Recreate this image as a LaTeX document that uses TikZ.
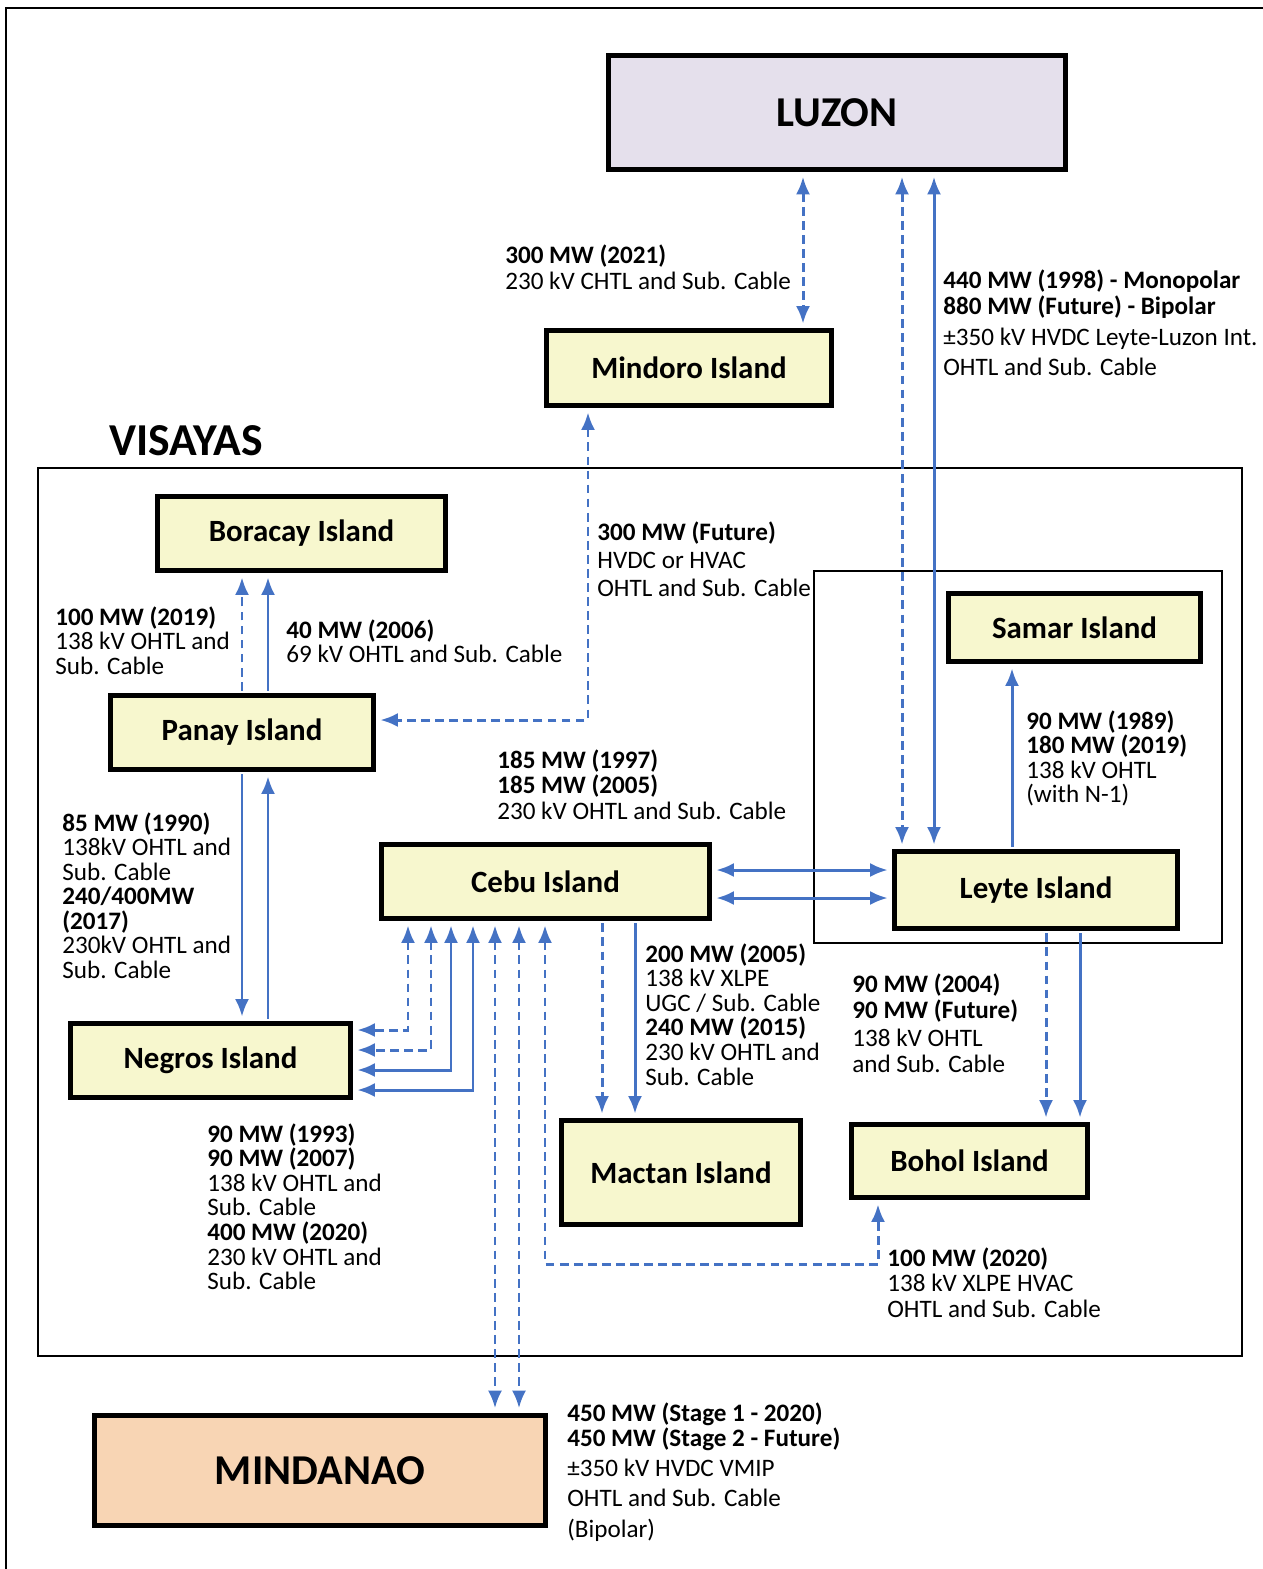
\documentclass[tikz,border=0pt]{standalone}
\usepackage{fontspec}
\setmainfont{Carlito}
\usetikzlibrary{arrows.meta}

\definecolor{linkblue}{HTML}{4472C4}
\definecolor{islandfill}{HTML}{F7F7CE}
\definecolor{luzonfill}{HTML}{E5E0EC}
\definecolor{mindanaofill}{HTML}{F8D5B4}

\begin{document}
\begin{tikzpicture}[x=0.02cm, y=-0.02cm]
        \tikzstyle{every node}=[inner sep=0pt]
        \tikzstyle{island}=[draw, line width=2.8pt, fill=islandfill, minimum height=1.48cm, font=\bfseries\fontsize{17.6}{20}\selectfont]
        \tikzstyle{region}=[draw, line width=3.3pt, font=\bfseries\fontsize{24.2}{28}\selectfont]
        \tikzstyle{link}=[linkblue, line width=1.7pt]
        \tikzstyle{dlink}=[link, dash pattern=on 5pt off 3pt]
        \tikzstyle{lbl}=[anchor=north west, align=left, font=\fontsize{14.3}{14}\selectfont]
        \tikzstyle{headend}=[-{Latex[length=10pt,width=8pt]}, shorten >=2.5pt, shorten <=1.4pt]
        \tikzstyle{headboth}=[{Latex[length=10pt,width=8pt]}-{Latex[length=10pt,width=8pt]}, shorten <=2.5pt, shorten >=2.5pt]
        \useasboundingbox (0,0) rectangle (1263,1569);
        \draw[line width=1.7pt] (1263,8) -- (6,8) -- (6,1569);

        % regions and islands
        \node[region, fill=luzonfill, minimum width=9.14cm, minimum height=2.28cm] (luzon) at (837,112.5) {LUZON};
        \node[island, minimum width=5.70cm, minimum height=1.50cm] (mindoro) at (689,368) {Mindoro Island};
        \node[anchor=west, font=\bfseries\fontsize{26}{30}\selectfont] (visayas) at (109,441) {VISAYAS};
        \draw[line width=1.4pt] (38,468) rectangle (1242,1356);
        \draw[line width=1.2pt] (814,571) rectangle (1222,943);
        \node[island, minimum width=5.76cm] (boracay) at (301.5,533.5) {Boracay Island};
        \node[island, minimum width=5.26cm] (panay) at (242,732.5) {Panay Island};
        \node[island, minimum width=5.04cm, minimum height=1.36cm] (samar) at (1074.5,627.5) {Samar Island};
        \node[island, minimum width=5.66cm, minimum height=1.54cm] (leyte) at (1036,890) {Leyte Island};
        \node[island, minimum width=6.56cm] (cebu) at (545.5,881.5) {Cebu Island};
        \node[island, minimum width=5.60cm] (negros) at (210.5,1060.5) {Negros Island};
        \node[island, minimum width=4.78cm, minimum height=2.08cm] (mactan) at (681,1172.5) {Mactan Island};
        \node[island, minimum width=4.72cm, minimum height=1.46cm] (bohol) at (969.5,1161) {Bohol Island};
        \node[region, fill=mindanaofill, minimum width=9.02cm, minimum height=2.20cm] (mindanao) at (320,1470.5) {MINDANAO};

        % links to Luzon
        \draw[dlink, headboth] (luzon.south -| 803,0) -- (mindoro.north -| 803,0);
        \draw[dlink, headboth] (luzon.south -| 902,0) -- (leyte.north -| 902,0);
        \draw[link, headboth] (luzon.south -| 934,0) -- (leyte.north -| 934,0);
        \draw[dlink, headboth] (mindoro.south -| 588,0) |- (panay.east |- 0,720);

        % Panay links
        \draw[dlink, headend] (panay.north -| 242,0) -- (boracay.south -| 242,0);
        \draw[link, headend] (panay.north -| 268,0) -- (boracay.south -| 268,0);
        \draw[link, headend] (panay.south -| 242,0) -- (negros.north -| 242,0);
        \draw[link, headend] (negros.north -| 268,0) -- (panay.south -| 268,0);

        % Cebu links
        \foreach \cx/\ny in {408/1030, 431/1050}
            \draw[dlink, headboth] (cebu.south -| \cx,0) |- (negros.east |- 0,\ny);
        \foreach \cx/\ny in {451/1070, 473/1090}
            \draw[link, headboth] (cebu.south -| \cx,0) |- (negros.east |- 0,\ny);
        \foreach \cx in {495, 519}
            \draw[dlink, headboth] (cebu.south -| \cx,0) -- (mindanao.north -| \cx,0);
        \draw[dlink, headboth] (cebu.south -| 545,0) |- (878,1264) -- (bohol.south -| 878,0);
        \draw[dlink, headend] (cebu.south -| 602,0) -- (mactan.north -| 602,0);
        \draw[link, headend] (cebu.south -| 635,0) -- (mactan.north -| 635,0);
        \foreach \ly in {870, 898}
            \draw[link, headboth] (cebu.east |- 0,\ly) -- (leyte.west |- 0,\ly);

        % Leyte links
        \draw[link, headend] (leyte.north -| 1012,0) -- (samar.south -| 1012,0);
        \draw[dlink, headend] (leyte.south -| 1046,0) -- (bohol.north -| 1046,0);
        \draw[link, headend] (leyte.south -| 1080,0) -- (bohol.north -| 1080,0);

        % captions
        \node[lbl] (capMindoro) at (505,244) {\textbf{300 MW (2021)}\\[1.3pt] 230 kV CHTL and Sub. Cable};
        \node[lbl] (capLuzLey) at (943,269) {\textbf{440 MW (1998) - Monopolar}\\[1.3pt] \textbf{880 MW (Future) - Bipolar}\\[3.6pt] ±350 kV HVDC Leyte-Luzon Int.\\[3pt] OHTL and Sub. Cable};
        \node[lbl] (capMinPan) at (597,521) {\textbf{300 MW (Future)}\\[2.4pt] HVDC or HVAC\\[1.9pt] OHTL and Sub. Cable};
        \node[lbl] (capBorA) at (55,606) {\textbf{100 MW (2019)}\\ 138 kV OHTL and\\ Sub. Cable};
        \node[lbl] (capBorB) at (286,619) {\textbf{40 MW (2006)}\\ 69 kV OHTL and Sub. Cable};
        \node[lbl] (capCebLey) at (497,749) {\textbf{185 MW (1997)}\\[0.7pt] \textbf{185 MW (2005)}\\[0.7pt] 230 kV OHTL and Sub. Cable};
        \node[lbl] (capSamar) at (1026,710) {\textbf{90 MW (1989)}\\ \textbf{180 MW (2019)}\\ 138 kV OHTL\\ (with N-1)};
        \node[lbl] (capPanNeg) at (62,812) {\textbf{85 MW (1990)}\\ 138kV OHTL and\\ Sub. Cable\\ \textbf{240/400MW}\\ \textbf{(2017)}\\ 230kV OHTL and\\ Sub. Cable};
        \node[lbl] (capMactan) at (645,943) {\textbf{200 MW (2005)}\\ 138 kV XLPE\\ UGC / Sub. Cable\\ \textbf{240 MW (2015)}\\ 230 kV OHTL and\\ Sub. Cable};
        \node[lbl] (capBohol) at (852,973) {\textbf{90 MW (2004)}\\[1.3pt] \textbf{90 MW (Future)}\\[1.9pt] 138 kV OHTL\\[0.7pt] and Sub. Cable};
        \node[lbl] (capNegros) at (207,1123) {\textbf{90 MW (1993)}\\ \textbf{90 MW (2007)}\\ 138 kV OHTL and\\ Sub. Cable\\ \textbf{400 MW (2020)}\\ 230 kV OHTL and\\ Sub. Cable};
        \node[lbl] (capCebBoh) at (887,1247) {\textbf{100 MW (2020)}\\[0.7pt] 138 kV XLPE HVAC\\[0.7pt] OHTL and Sub. Cable};
        \node[lbl] (capMindanao) at (567,1402) {\textbf{450 MW (Stage 1 - 2020)}\\[0.7pt] \textbf{450 MW (Stage 2 - Future)}\\[3pt] ±350 kV HVDC VMIP\\[3pt] OHTL and Sub. Cable\\[3.6pt] (Bipolar)};
    \end{tikzpicture}
\end{document}
